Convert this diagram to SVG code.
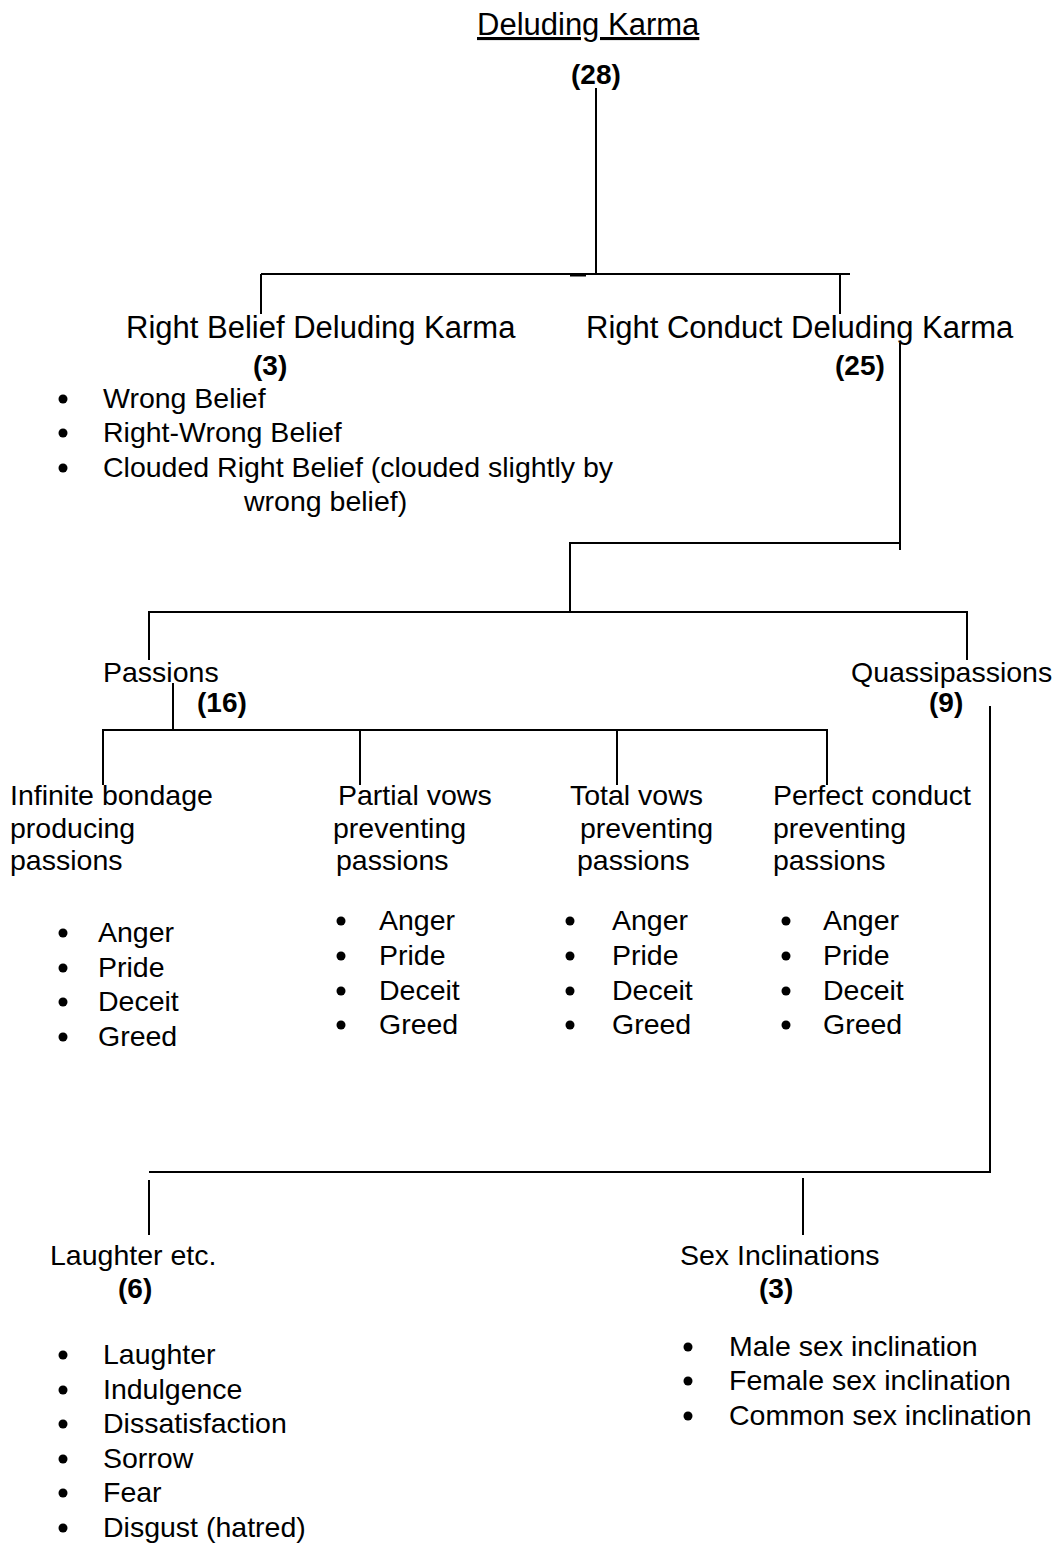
<svg xmlns="http://www.w3.org/2000/svg" width="1056" height="1547" viewBox="0 0 1056 1547">
<style>
text{font-family:"Liberation Sans",Arial,sans-serif;font-size:28.5px;fill:#000}
.h{font-size:31px}
.b{font-weight:bold;font-size:28px}
.u{text-decoration:underline}
line,path{stroke:#000;stroke-width:2;fill:none}
circle{fill:#000}
</style>
<rect width="1056" height="1547" fill="#fff"/>
<g id="connectors">
<line x1="596" y1="88" x2="596" y2="274"/>
<line x1="261" y1="274" x2="850" y2="274"/>
<line x1="570" y1="275" x2="586" y2="275" style="stroke-width:3"/>
<line x1="261" y1="274" x2="261" y2="314"/>
<line x1="840" y1="274" x2="840" y2="314"/>
<path d="M900,343 V550 M900,543 H570 V612 M149,660 V612 H967 V660"/>
<path d="M173,683 V730 M103,785 V730 H827 V785 M360,730 V785 M617,730 V785"/>
<path d="M990,706 V1172 H149 M149,1180 V1235 M803,1178 V1235"/>
</g>
<g id="root"><text x="477" y="35" class="h u">Deluding Karma</text><text x="571" y="84" class="b">(28)</text></g>
<g id="right-belief">
<text x="126" y="338" class="h">Right Belief Deluding Karma</text>
<text x="253" y="375" class="b">(3)</text>
<circle cx="63" cy="399" r="4.5"/><text x="103" y="408">Wrong Belief</text>
<circle cx="63" cy="433" r="4.5"/><text x="103" y="442">Right-Wrong Belief</text>
<circle cx="63" cy="468" r="4.5"/><text x="103" y="477">Clouded Right Belief (clouded slightly by</text>
<text x="244" y="511">wrong belief)</text>
</g>
<g id="right-conduct"><text x="586" y="338" class="h">Right Conduct Deluding Karma</text><text x="835" y="375" class="b">(25)</text></g>
<g id="passions"><text x="103" y="682">Passions</text><text x="197" y="712" class="b">(16)</text></g>
<g id="quassipassions"><text x="851" y="682">Quassipassions</text><text x="929" y="712" class="b">(9)</text></g>
<g id="infinite">
<text x="10" y="805">Infinite bondage</text><text x="10" y="838">producing</text><text x="10" y="870">passions</text>
<circle cx="63" cy="933" r="4.5"/><text x="98" y="942">Anger</text>
<circle cx="63" cy="968" r="4.5"/><text x="98" y="977">Pride</text>
<circle cx="63" cy="1002" r="4.5"/><text x="98" y="1011">Deceit</text>
<circle cx="63" cy="1037" r="4.5"/><text x="98" y="1046">Greed</text>
</g>
<g id="partial">
<text x="338" y="805">Partial vows</text><text x="333" y="838">preventing</text><text x="336" y="870">passions</text>
<circle cx="341" cy="921" r="4.5"/><text x="379" y="930">Anger</text>
<circle cx="341" cy="956" r="4.5"/><text x="379" y="965">Pride</text>
<circle cx="341" cy="991" r="4.5"/><text x="379" y="1000">Deceit</text>
<circle cx="341" cy="1025" r="4.5"/><text x="379" y="1034">Greed</text>
</g>
<g id="total">
<text x="570" y="805">Total vows</text><text x="580" y="838">preventing</text><text x="577" y="870">passions</text>
<circle cx="570" cy="921" r="4.5"/><text x="612" y="930">Anger</text>
<circle cx="570" cy="956" r="4.5"/><text x="612" y="965">Pride</text>
<circle cx="570" cy="991" r="4.5"/><text x="612" y="1000">Deceit</text>
<circle cx="570" cy="1025" r="4.5"/><text x="612" y="1034">Greed</text>
</g>
<g id="perfect">
<text x="773" y="805">Perfect conduct</text><text x="773" y="838">preventing</text><text x="773" y="870">passions</text>
<circle cx="786" cy="921" r="4.5"/><text x="823" y="930">Anger</text>
<circle cx="786" cy="956" r="4.5"/><text x="823" y="965">Pride</text>
<circle cx="786" cy="991" r="4.5"/><text x="823" y="1000">Deceit</text>
<circle cx="786" cy="1025" r="4.5"/><text x="823" y="1034">Greed</text>
</g>
<g id="laughter">
<text x="50" y="1265">Laughter etc.</text><text x="118" y="1298" class="b">(6)</text>
<circle cx="63" cy="1355" r="4.5"/><text x="103" y="1364">Laughter</text>
<circle cx="63" cy="1390" r="4.5"/><text x="103" y="1399">Indulgence</text>
<circle cx="63" cy="1424" r="4.5"/><text x="103" y="1433">Dissatisfaction</text>
<circle cx="63" cy="1459" r="4.5"/><text x="103" y="1468">Sorrow</text>
<circle cx="63" cy="1493" r="4.5"/><text x="103" y="1502">Fear</text>
<circle cx="63" cy="1528" r="4.5"/><text x="103" y="1537">Disgust (hatred)</text>
</g>
<g id="sex">
<text x="680" y="1265">Sex Inclinations</text><text x="759" y="1298" class="b">(3)</text>
<circle cx="688" cy="1347" r="4.5"/><text x="729" y="1356">Male sex inclination</text>
<circle cx="688" cy="1381" r="4.5"/><text x="729" y="1390">Female sex inclination</text>
<circle cx="688" cy="1416" r="4.5"/><text x="729" y="1425">Common sex inclination</text>
</g>
</svg>
